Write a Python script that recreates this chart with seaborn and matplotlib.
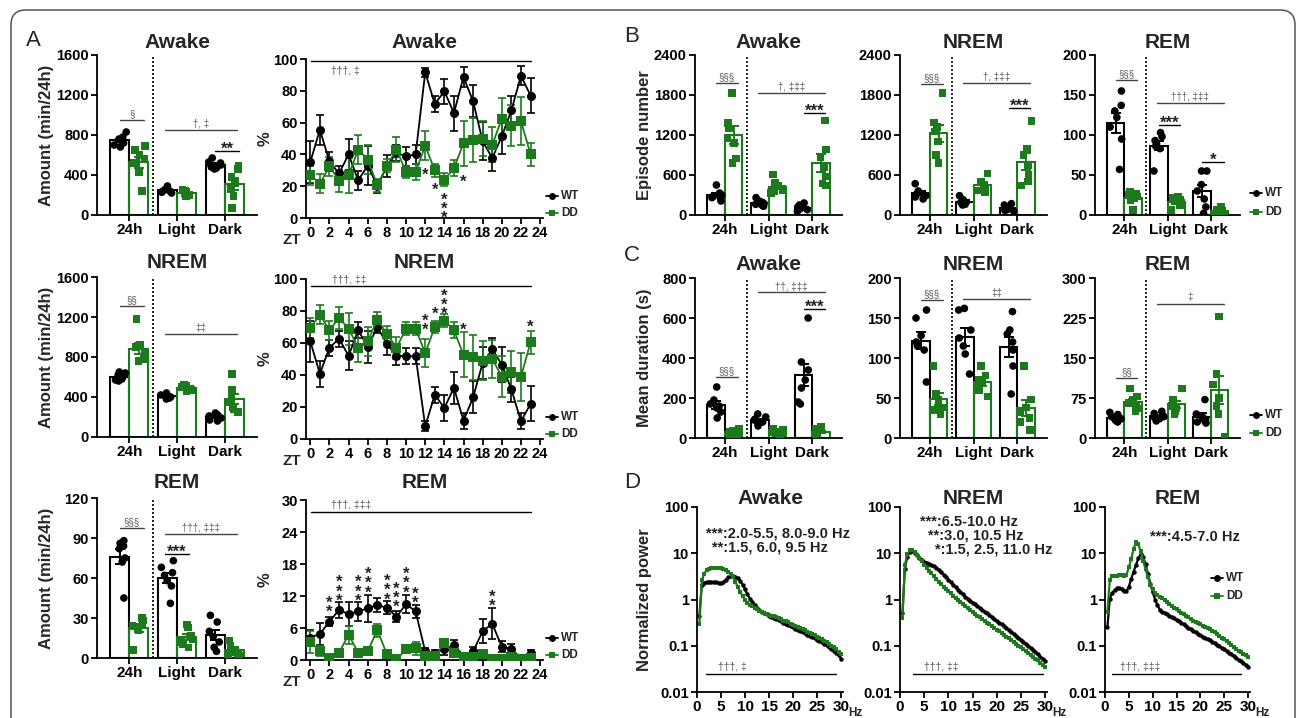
import numpy as np
import pandas as pd
import matplotlib
matplotlib.use("Agg")
import matplotlib.pyplot as plt
import seaborn as sns
from matplotlib.patches import FancyBboxPatch
from matplotlib.lines import Line2D
from matplotlib.ticker import NullLocator

# ---------------- data ----------------
PERIODS = ["24h", "Light", "Dark"]
GROUPS = ["WT", "DD"]
ZT = list(range(24))
ZT_TICKS = list(range(0, 25, 2))
FREQ = list(np.arange(0.5, 30.01, 0.5))

# A: amount (min/24h), individual animals per period
A_AWAKE_WT = [[700, 720, 760, 780, 830, 680, 750], [230, 250, 290, 240, 220, 260, 230], [570, 520, 480, 460, 500, 530, 470]]
A_AWAKE_DD = [[690, 650, 600, 560, 520, 430, 240], [200, 230, 250, 210, 240, 190, 220], [490, 460, 380, 320, 260, 190, 70]]
A_NREM_WT = [[580, 620, 650, 600, 560, 640, 570], [400, 420, 440, 390, 410, 380, 420], [170, 200, 240, 220, 190, 160, 210]]
A_NREM_DD = [[1180, 920, 900, 850, 800, 780, 760], [470, 500, 520, 510, 480, 460, 500], [630, 470, 400, 350, 300, 280, 250]]
A_REM_WT = [[88, 86, 82, 84, 75, 72, 45], [73, 68, 64, 62, 58, 54, 41], [32, 27, 20, 16, 12, 8, 5]]
A_REM_DD = [[30, 28, 26, 24, 23, 21, 6], [25, 23, 17, 14, 12, 10, 8], [13, 9, 6, 4, 3, 2, 3]]

# A: hourly % (mean, SEM)
AWAKE_WT_M = [35.2, 55.5, 35.6, 28, 40, 23.7, 33, 20, 32.5, 41, 38.8, 40, 91.6, 71.7, 79.7, 66, 88.7, 73.4, 48.2, 37.7, 51.4, 67.7, 89.5, 77]
AWAKE_WT_S = [13, 9.5, 6, 5, 10, 6, 12, 4, 7, 5, 6, 6, 3, 5, 8, 11, 6, 10, 12, 8, 11, 9, 6, 11]
AWAKE_DD_M = [27, 21.6, 32.5, 23.5, 27, 43, 36.7, 20.5, 33, 43, 29, 29, 45.5, 30, 24, 31.4, 47, 49, 50, 46, 62.5, 58, 61, 40]
AWAKE_DD_S = [6, 6, 6, 7, 11, 9, 9, 4, 4, 8, 4, 5, 9, 4, 4, 5, 14, 14, 11, 11, 13, 13, 15, 7]
NREM_WT_M = [61, 40.8, 57, 62.7, 52, 68, 57.5, 70, 59.4, 52, 51.7, 51.7, 8, 27.7, 19.4, 32, 11.5, 26, 47.5, 56, 46.5, 31, 11, 22]
NREM_WT_S = [13, 8, 5, 5, 9, 5, 10, 4, 7, 6, 5, 5, 3, 5, 8, 10, 5, 10, 10, 7, 11, 8, 5, 11]
NREM_DD_M = [69.4, 77.7, 68, 75.6, 69, 57, 61, 74.6, 65.8, 57, 69, 69, 53.7, 70, 74, 68, 52.7, 51, 49, 50, 39, 42, 39, 60.4]
NREM_DD_S = [6, 6, 6, 7, 10, 9, 9, 5, 5, 7, 4, 4, 9, 4, 4, 5, 14, 14, 12, 12, 13, 13, 15, 7]
REM_WT_M = [4.2, 4.9, 7.2, 9.4, 8.6, 9.1, 9.7, 10.3, 9.8, 8.1, 10.5, 9.1, 1.6, 1.4, 2, 2.8, 0.75, 1.6, 5.4, 6.8, 2.5, 2.1, 0.3, 1.25]
REM_WT_S = [1.5, 2, 0.8, 1.5, 2.3, 1.8, 2.5, 1.3, 1.2, 1, 1.7, 1.3, 0.6, 0.4, 1, 1, 0.5, 0.8, 2.2, 2.9, 1, 0.9, 0.3, 0.6]
REM_DD_M = [3.4, 1.7, 0.3, 1.4, 4.7, 1.4, 1.7, 5.6, 1.1, 0.1, 2, 2.2, 0.75, 0.75, 3.1, 1.25, 0.5, 0.6, 1.1, 0.1, 0.1, 0.6, 0.1, 0.4]
REM_DD_S = [2, 1, 0.3, 0.5, 1.7, 0.5, 0.8, 1.2, 0.4, 0.1, 0.5, 1.2, 0.3, 0.3, 0.6, 0.6, 0.3, 0.3, 0.4, 0.1, 0.1, 0.3, 0.1, 0.3]

# B: episode number
B_AWAKE_WT = [[450, 330, 300, 280, 260, 240, 210], [260, 210, 190, 170, 160, 150, 130], [180, 150, 120, 100, 80, 70, 60]]
B_AWAKE_DD = [[1830, 1380, 1300, 1150, 1080, 850, 780], [610, 480, 440, 400, 370, 350, 330], [1420, 980, 860, 720, 580, 470, 440]]
B_NREM_WT = [[470, 360, 330, 310, 290, 270, 240], [290, 230, 210, 190, 180, 160, 150], [170, 150, 120, 100, 80, 70, 60]]
B_NREM_DD = [[1830, 1390, 1320, 1250, 1100, 900, 780], [620, 500, 450, 420, 400, 370, 340], [1410, 1000, 900, 750, 600, 500, 440]]
B_REM_WT = [[155, 137, 130, 122, 110, 95, 57], [103, 98, 93, 90, 86, 83, 55], [55, 55, 38, 30, 20, 10, 2]]
B_REM_DD = [[29, 27, 25, 23, 21, 18, 6], [23, 21, 19, 17, 15, 12, 6], [10, 7, 5, 4, 3, 2, 1]]

# C: mean duration (s)
C_AWAKE_WT = [[255, 190, 170, 160, 150, 130, 100], [120, 105, 95, 90, 80, 70, 60], [600, 380, 340, 290, 250, 180, 170]]
C_AWAKE_DD = [[45, 38, 32, 28, 25, 20, 15], [45, 40, 33, 28, 25, 22, 18], [55, 45, 35, 28, 22, 15, 10]]
C_NREM_WT = [[160, 150, 128, 120, 115, 110, 70], [162, 160, 135, 125, 115, 105, 80], [158, 135, 130, 120, 110, 90, 55]]
C_NREM_DD = [[90, 55, 48, 42, 38, 35, 30], [90, 78, 73, 70, 65, 60, 52], [90, 48, 38, 32, 25, 20, 10]]
C_REM_WT = [[48, 44, 40, 38, 36, 33, 30], [50, 46, 42, 40, 38, 36, 32], [72, 45, 40, 35, 32, 30, 28]]
C_REM_DD = [[93, 78, 72, 66, 62, 55, 50], [93, 72, 65, 60, 55, 50, 45], [228, 120, 100, 75, 60, 45, 2]]

# D: normalized power spectra (0.5 .. 30 Hz)
D_AWAKE_WT = [0.45, 2.1, 2.3, 2.35, 2.4, 2.4, 2.35, 2.35, 2.3, 2.25, 2.35, 2.7, 3.0, 3.2, 3.2, 3.1, 2.9, 2.55, 2.1, 1.65,
              1.3, 1.05, 0.9, 0.77, 0.66, 0.59, 0.55, 0.51, 0.48, 0.45, 0.42, 0.4, 0.375, 0.355, 0.335, 0.315, 0.3, 0.28, 0.265, 0.25,
              0.235, 0.222, 0.21, 0.198, 0.186, 0.175, 0.165, 0.155, 0.145, 0.136, 0.127, 0.118, 0.11, 0.102, 0.094, 0.086, 0.078, 0.07, 0.062, 0.052]
D_AWAKE_DD = [0.3, 2.6, 3.6, 4.3, 4.6, 4.75, 4.8, 4.8, 4.75, 4.7, 4.6, 4.35, 4.0, 3.6, 3.0, 2.4, 1.85, 1.45, 1.18, 0.98,
              0.86, 0.77, 0.71, 0.66, 0.61, 0.57, 0.54, 0.51, 0.49, 0.47, 0.45, 0.43, 0.41, 0.39, 0.37, 0.35, 0.335, 0.32, 0.30, 0.28,
              0.266, 0.252, 0.239, 0.226, 0.214, 0.202, 0.19, 0.179, 0.168, 0.158, 0.148, 0.138, 0.128, 0.119, 0.11, 0.101, 0.092, 0.083, 0.074, 0.065]
D_NREM_WT = [0.5, 4.5, 8.5, 10.5, 11.0, 10.2, 9.0, 8.0, 7.2, 6.6, 6.2, 5.9, 5.6, 5.3, 4.9, 4.4, 3.9, 3.45, 3.05, 2.7,
             2.4, 2.1, 1.85, 1.64, 1.46, 1.3, 1.16, 1.04, 0.94, 0.85, 0.78, 0.72, 0.66, 0.6, 0.55, 0.5, 0.455, 0.415, 0.38, 0.345,
             0.315, 0.29, 0.265, 0.24, 0.22, 0.2, 0.182, 0.165, 0.15, 0.136, 0.123, 0.111, 0.1, 0.09, 0.081, 0.073, 0.065, 0.058, 0.052, 0.046]
D_NREM_DD = [0.4, 5.5, 9.5, 11.5, 12.0, 10.8, 9.3, 7.9, 6.7, 5.7, 4.9, 4.2, 3.7, 3.2, 2.8, 2.45, 2.15, 1.9, 1.68, 1.5,
             1.35, 1.2, 1.08, 0.97, 0.88, 0.8, 0.72, 0.65, 0.59, 0.54, 0.49, 0.45, 0.41, 0.375, 0.345, 0.315, 0.29, 0.265, 0.243, 0.222,
             0.204, 0.187, 0.171, 0.157, 0.144, 0.132, 0.121, 0.111, 0.101, 0.093, 0.085, 0.077, 0.07, 0.064, 0.058, 0.053, 0.048, 0.043, 0.039, 0.035]
D_REM_WT = [0.25, 1.05, 1.4, 1.6, 1.75, 1.8, 1.7, 1.55, 1.5, 1.9, 2.8, 4.0, 5.6, 7.8, 9.5, 8.2, 5.8, 3.6, 2.2, 1.45,
            1.0, 0.75, 0.6, 0.55, 0.51, 0.48, 0.45, 0.42, 0.39, 0.36, 0.34, 0.31, 0.29, 0.265, 0.245, 0.225, 0.21, 0.195, 0.18, 0.168,
            0.157, 0.147, 0.138, 0.13, 0.122, 0.114, 0.106, 0.098, 0.09, 0.083, 0.077, 0.071, 0.065, 0.06, 0.055, 0.05, 0.046, 0.042, 0.038, 0.035]
D_REM_DD = [0.55, 2.6, 3.2, 3.3, 3.3, 3.4, 3.4, 3.3, 3.4, 5.0, 7.5, 12.5, 17.5, 15.5, 11.0, 6.8, 4.5, 3.0, 2.1, 1.65,
            1.4, 1.25, 1.15, 1.06, 0.98, 0.88, 0.8, 0.73, 0.67, 0.61, 0.56, 0.52, 0.48, 0.44, 0.41, 0.38, 0.35, 0.33, 0.31, 0.29,
            0.27, 0.255, 0.24, 0.225, 0.21, 0.195, 0.18, 0.165, 0.15, 0.138, 0.125, 0.113, 0.102, 0.093, 0.085, 0.078, 0.072, 0.066, 0.062, 0.058]

# ---------------- style ----------------
W, H = 1296, 718
GREEN = "#1c7a1c"
PAL = {"WT": "black", "DD": GREEN}
MARK = {"WT": "o", "DD": "s"}
SIGC = "#5a5a5a"

sns.set_theme(style="ticks")
plt.rcParams.update({
    "font.family": ["Liberation Sans", "DejaVu Sans"],
    "font.weight": "bold",
    "axes.edgecolor": "black",
    "axes.linewidth": 1.3,
    "xtick.color": "black", "ytick.color": "black",
    "xtick.major.width": 1.3, "ytick.major.width": 1.3,
    "xtick.major.size": 4, "ytick.major.size": 4,
    "xtick.major.pad": 2, "ytick.major.pad": 2,
    "xtick.labelsize": 10.5, "ytick.labelsize": 10.5,
})
np.random.seed(7)

fig = plt.figure(figsize=(W / 100, H / 100), dpi=100)


def fx(x):
    return x / W


def fy(y):
    return 1 - y / H


def add_ax(l, t, r, b):
    return fig.add_axes([fx(l), fy(b), (r - l) / W, (b - t) / H])


def ftext(x, y, s, **kw):
    fig.text(fx(x), fy(y), s, **kw)


def title_at(box, y, s):
    ftext((box[0] + box[2]) / 2, y, s, ha="center", va="center", fontsize=15, fontweight="bold")


def ylabel_at(x, box, s):
    ftext(x, (box[1] + box[3]) / 2, s, rotation=90, ha="center", va="center", fontsize=12, fontweight="bold")


def legend_px(x, y, dy, fs=8.5, ms=5):
    for i, g in enumerate(GROUPS):
        yy = y + i * dy
        fig.add_artist(Line2D([fx(x - 6), fx(x + 6)], [fy(yy), fy(yy)], color=PAL[g], lw=1.3, transform=fig.transFigure))
        fig.add_artist(Line2D([fx(x)], [fy(yy)], color=PAL[g], marker=MARK[g], markersize=ms, mew=0, transform=fig.transFigure))
        ftext(x + 9, yy, g, ha="left", va="center", fontsize=fs, fontweight="bold")


def sig(ax, x0, x1, y, label, star=False):
    if star:
        ax.plot([x0, x1], [y, y], color="black", lw=1.0, clip_on=False)
        ax.annotate(label, ((x0 + x1) / 2, y), xytext=(0, -2), textcoords="offset points",
                    ha="center", va="baseline", fontsize=12, fontweight="bold", color="#222222")
    else:
        ax.plot([x0, x1], [y, y], color="#444444", lw=1.0, clip_on=False)
        ax.annotate(label, ((x0 + x1) / 2, y), xytext=(0, 0.8), textcoords="offset points",
                    ha="center", va="bottom", fontsize=7, fontweight="normal", color=SIGC)


def stars(ax, x, yc, n, fs=12):
    ax.annotate("\n".join(["*"] * n), (x, yc), xytext=(0, -0.32 * fs), textcoords="offset points",
                ha="center", va="center", fontsize=fs, linespacing=0.52, fontweight="bold", color="#222222")


def bar_panel(box, wt, dd, ymax, step, sigs):
    ax = add_ax(*box)
    rows = [(p, "WT", v) for p, vals in zip(PERIODS, wt) for v in vals] + \
           [(p, "DD", v) for p, vals in zip(PERIODS, dd) for v in vals]
    df = pd.DataFrame(rows, columns=["period", "group", "value"])
    sns.barplot(data=df, x="period", y="value", hue="group", order=PERIODS, hue_order=GROUPS,
                palette=PAL, fill=False, errorbar=None, width=0.8, linewidth=1.5, legend=False, ax=ax)
    bars = list(ax.patches)
    for g in GROUPS:
        sns.stripplot(data=df[df["group"] == g], x="period", y="value", hue="group", order=PERIODS,
                      hue_order=GROUPS, palette=PAL, dodge=True, jitter=0.28, marker=MARK[g], size=5.5,
                      linewidth=0, legend=False, zorder=3, ax=ax)
    stats = df.groupby(["group", "period"])["value"].agg(["mean", "sem"])
    for patch in bars:
        xc = patch.get_x() + patch.get_width() / 2
        ci = int(round(xc))
        g = "WT" if xc < ci else "DD"
        m, s = stats.loc[(g, PERIODS[ci])]
        ax.errorbar(xc, m, yerr=s, fmt="none", ecolor=PAL[g], elinewidth=1.4, capsize=3.5, capthick=1.4, zorder=5)
    ax.axvline(0.5, color="black", lw=1.2, ls=(0, (1.2, 1.2)), zorder=1)
    ax.set_xlim(-0.68, 2.68)
    ax.set_ylim(0, ymax)
    ax.set_yticks(list(range(0, ymax + 1, step)))
    ax.set_xlabel("")
    ax.set_ylabel("")
    ax.tick_params(axis="x", labelsize=11)
    sns.despine(ax=ax)
    for lab, x0, x1, y, st in sigs:
        sig(ax, x0, x1, y, lab, st)
    return ax


def ts_panel(box, wm, ws, dm, ds, ymax, step, sline, stext, starlist):
    ax = add_ax(*box)
    df = pd.DataFrame({"ZT": ZT + ZT, "value": wm + dm, "group": ["WT"] * 24 + ["DD"] * 24})
    ax.errorbar(ZT, wm, yerr=ws, fmt="none", ecolor="black", elinewidth=1.2, capsize=3, capthick=1.2, zorder=2)
    ax.errorbar(ZT, dm, yerr=ds, fmt="none", ecolor=GREEN, elinewidth=1.2, capsize=3, capthick=1.2, zorder=2)
    sns.lineplot(data=df, x="ZT", y="value", hue="group", style="group", hue_order=GROUPS, style_order=GROUPS,
                 palette=PAL, markers=MARK, dashes=False, markersize=6.5, markeredgewidth=0, linewidth=1.3,
                 errorbar=None, legend=False, zorder=3, ax=ax)
    ax.set_xlim(-0.45, 24.3)
    ax.set_ylim(0, ymax)
    ax.set_xticks(ZT_TICKS)
    ax.set_yticks(list(range(0, ymax + 1, step)))
    ax.set_xlabel("")
    ax.set_ylabel("")
    sns.despine(ax=ax)
    ax.plot([0.1, 23], [sline, sline], color="black", lw=1.0)
    ax.text(stext[0], stext[1], stext[2], ha="center", va="center", fontsize=7.5, fontweight="normal", color=SIGC)
    for x, yc, n in starlist:
        stars(ax, x, yc, n)
    return ax


def psd_panel(box, wt, dd, notes, sline, stext):
    ax = add_ax(*box)
    df = pd.DataFrame({"Hz": FREQ + FREQ, "power": wt + dd, "group": ["WT"] * len(FREQ) + ["DD"] * len(FREQ)})
    sns.lineplot(data=df, x="Hz", y="power", hue="group", style="group", hue_order=GROUPS, style_order=GROUPS,
                 palette=PAL, markers=MARK, dashes=False, markersize=3.2, markeredgewidth=0, linewidth=1.6,
                 errorbar=None, legend=False, ax=ax)
    ax.set_yscale("log")
    ax.set_ylim(0.01, 100)
    ax.set_xlim(0, 30.4)
    ax.set_yticks([0.01, 0.1, 1, 10, 100])
    ax.set_yticklabels(["0.01", "0.1", "1", "10", "100"])
    ax.yaxis.set_minor_locator(NullLocator())
    ax.set_xticks(list(range(0, 31, 5)))
    ax.set_xlabel("")
    ax.set_ylabel("")
    sns.despine(ax=ax)
    ax.tick_params(axis="x", labelsize=11)
    for x, y, s in notes:
        ax.text(x, y, s, ha="left", va="center", fontsize=10.5, fontweight="bold", color="#222222")
    ax.plot([sline[0], sline[1]], [sline[2], sline[2]], color="black", lw=1.0)
    ax.text(stext[0], stext[1], stext[2], ha="center", va="center", fontsize=7.5, fontweight="normal", color=SIGC)
    ftext(box[2] + 12, 713, "Hz", ha="center", va="center", fontsize=8.5, fontweight="bold")
    return ax


# ---------------- frame & panel letters ----------------
frame = FancyBboxPatch((0.11, -0.5), 12.84, 7.58, boxstyle="round,pad=0,rounding_size=0.15",
                       transform=fig.dpi_scale_trans, facecolor="none", edgecolor="#555555", lw=1.1)
fig.add_artist(frame)
for letter, x, y in (("A", 33, 40), ("B", 632, 37), ("C", 632, 256), ("D", 632, 483)):
    ftext(x, y, letter, ha="center", va="center", fontsize=16, fontweight="normal")

# ---------------- panel A: bars ----------------
boxA1 = (97, 55, 257, 215)
boxA2 = (97, 277, 257, 437)
boxA3 = (97, 498, 257, 658)
bar_panel(boxA1, A_AWAKE_WT, A_AWAKE_DD, 1600, 400,
          [("§", -0.2, 0.3, 950, False), ("†, ‡", 0.75, 2.25, 850, False), ("**", 1.8, 2.3, 640, True)])
bar_panel(boxA2, A_NREM_WT, A_NREM_DD, 1600, 400,
          [("§§", -0.2, 0.3, 1310, False), ("‡‡", 0.75, 2.25, 1030, False)])
bar_panel(boxA3, A_REM_WT, A_REM_DD, 120, 30,
          [("§§§", -0.2, 0.3, 97.5, False), ("†††, ‡‡‡", 0.75, 2.25, 93, False), ("***", 0.75, 1.25, 78, True)])
for box, ty, t in ((boxA1, 42, "Awake"), (boxA2, 262, "NREM"), (boxA3, 483, "REM")):
    title_at(box, ty, t)
    ylabel_at(47, box, "Amount (min/24h)")

# ---------------- panel A: time courses ----------------
boxT1 = (306, 59, 543, 218)
boxT2 = (306, 279, 543, 439)
boxT3 = (306, 500, 543, 660)
ts_panel(boxT1, AWAKE_WT_M, AWAKE_WT_S, AWAKE_DD_M, AWAKE_DD_S, 100, 20, 98.5, (3.7, 93, "†††, ‡"),
         [(12, 30, 1), (13, 20.5, 1), (14, 9, 3), (16, 26, 1)])
ts_panel(boxT2, NREM_WT_M, NREM_WT_S, NREM_DD_M, NREM_DD_S, 100, 20, 95.8, (4.05, 100, "†††, ‡‡"),
         [(12, 74, 2), (13, 81, 1), (14, 87, 3), (16, 71, 1), (23, 73, 1)])
ts_panel(boxT3, REM_WT_M, REM_WT_S, REM_DD_M, REM_DD_S, 30, 6, 27.7, (4.3, 29.1, "†††, ‡‡‡"),
         [(2, 10.75, 2), (3, 13.75, 3), (5, 13.75, 3), (6, 15.3, 3), (8, 14, 3), (9, 12.6, 3),
          (10, 15.3, 3), (11, 12.5, 2), (19, 11.9, 2)])
for box, ty, t, ly in ((boxT1, 42, "Awake", 196), (boxT2, 262, "NREM", 417), (boxT3, 483, "REM", 638)):
    title_at(box, ty, t)
    ylabel_at(265, box, "%")
    ftext(292, box[3] + 22, "ZT", ha="center", va="center", fontsize=11, fontweight="bold")
    legend_px(552, ly, 17)

# ---------------- panel B ----------------
colsX = ((695, 842), (900, 1047), (1095, 1240))
boxB = [(l, 55, r, 215) for l, r in colsX]
bar_panel(boxB[0], B_AWAKE_WT, B_AWAKE_DD, 2400, 600,
          [("§§§", -0.2, 0.3, 1975, False), ("†, ‡‡‡", 0.75, 2.3, 1835, False), ("***", 1.8, 2.3, 1525, True)])
bar_panel(boxB[1], B_NREM_WT, B_NREM_DD, 2400, 600,
          [("§§§", -0.2, 0.3, 1965, False), ("†, ‡‡‡", 0.75, 2.3, 1985, False), ("***", 1.8, 2.3, 1600, True)])
bar_panel(boxB[2], B_REM_WT, B_REM_DD, 200, 50,
          [("§§§", -0.2, 0.3, 169, False), ("†††, ‡‡‡", 0.75, 2.3, 140, False),
           ("***", 0.8, 1.3, 112.5, True), ("*", 1.8, 2.3, 66.7, True)])
for box, t in zip(boxB, ("Awake", "NREM", "REM")):
    title_at(box, 43, t)
ylabel_at(644, boxB[0], "Episode number")
legend_px(1256, 193, 19)

# ---------------- panel C ----------------
boxC = [(l, 278, r, 438) for l, r in colsX]
bar_panel(boxC[0], C_AWAKE_WT, C_AWAKE_DD, 800, 200,
          [("§§§", -0.2, 0.3, 305, False), ("††, ‡‡‡", 0.75, 2.3, 728, False), ("***", 1.8, 2.3, 645, True)])
bar_panel(boxC[1], C_NREM_WT, C_NREM_DD, 200, 50,
          [("§§§", -0.2, 0.3, 172, False), ("‡‡", 0.75, 2.3, 174, False)])
bar_panel(boxC[2], C_REM_WT, C_REM_DD, 300, 75,
          [("§§", -0.2, 0.3, 112, False), ("‡", 0.75, 2.3, 252, False)])
for box, t in zip(boxC, ("Awake", "NREM", "REM")):
    title_at(box, 265, t)
ylabel_at(645, boxC[0], "Mean duration (s)")
legend_px(1256, 415, 18)

# ---------------- panel D ----------------
boxD = [(697, 507, 843, 692), (900, 507, 1047, 692), (1105, 507, 1250, 692)]
psd_panel(boxD[0], D_AWAKE_WT, D_AWAKE_DD,
          [(1.8, 27, "***:2.0-5.5, 8.0-9.0 Hz"), (3.2, 13, "**:1.5, 6.0, 9.5 Hz")],
          (1.8, 29, 0.024), (7.3, 0.036, "†††, ‡"))
psd_panel(boxD[1], D_NREM_WT, D_NREM_DD,
          [(4.1, 47, "***:6.5-10.0 Hz"), (5.7, 24, "**:3.0, 10.5 Hz"), (7.3, 12, "*:1.5, 2.5, 11.0 Hz")],
          (2.7, 29.5, 0.024), (8.6, 0.036, "†††, ‡‡"))
psd_panel(boxD[2], D_REM_WT, D_REM_DD,
          [(9.5, 22.6, "***:4.5-7.0 Hz")],
          (1.4, 28.6, 0.024), (7.3, 0.036, "†††, ‡‡‡"))
for box, t in zip(boxD, ("Awake", "NREM", "REM")):
    title_at(box, 498, t)
ylabel_at(644, boxD[0], "Normalized power")
legend_px(1217, 578, 18)

fig.savefig("out.png", dpi=100)
